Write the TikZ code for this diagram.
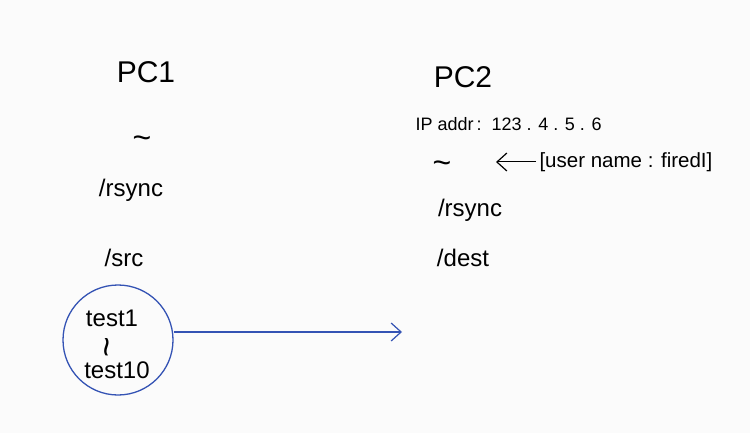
\documentclass[tikz,border=0pt]{standalone}
\usepackage{fontspec}
\setmainfont{Liberation Sans}
\usetikzlibrary{arrows.meta}
\definecolor{penblue}{HTML}{3453B4}
\definecolor{paper}{HTML}{FBFBFB}
\tikzset{
  big/.style={font=\fontsize{30}{30}\selectfont},
  dir/.style={font=\fontsize{24}{24}\selectfont},
  small/.style={font=\fontsize{18}{18}\selectfont},
  wave/.style={font=\fontsize{32}{32}\selectfont, inner sep=0pt},
  barb/.style={-{Straight Barb[length=10pt,width=18pt,line width=1.2pt]}}
}
\begin{document}
\begin{tikzpicture}[x=1pt, y=-1pt]
  \fill[paper] (0,0) rectangle (750,433);
  \useasboundingbox (0,0) rectangle (750,433);
  % PC1
  \node[big] (pc1) at (146,72) {PC1};
  \node[wave] (home1) at (142,142) {\textasciitilde};
  \node[dir] (rsync1) at (131,190) {/rsync};
  \node[dir] (src) at (124,258) {/src};
  \node[draw=penblue, line width=1.3pt, circle, minimum size=110pt, inner sep=0pt] (files) at (118,340) {};
  \node[dir] (t1) at (112,318) {test1};
  \node[wave, rotate=90, scale=1.1] (thru) at (112,347) {\textasciitilde};
  \node[dir] (t10) at (117,370) {test10};
  % PC2
  \node[big] (pc2) at (463,77) {PC2};
  \node[small, anchor=west] (ip) at (412,124) {IP addr\,:\ \ 123 . 4 . 5 . 6};
  \node[wave] (home2) at (442,167) {\textasciitilde};
  \node[small, anchor=west, font=\fontsize{20.5}{20.5}\selectfont] (user) at (536,162) {[user name : firedI]};
  \node[dir] (rsync2) at (470,210) {/rsync};
  \node[dir] (dest) at (463,258) {/dest};
  \coordinate (target) at (402,332);
  \draw[barb, penblue, line width=1.2pt] (files.east |- target) -- (target);
  \draw[barb, line width=1pt] (user.west) -- ++(-40,0) coordinate (ptr);
\end{tikzpicture}
\end{document}
